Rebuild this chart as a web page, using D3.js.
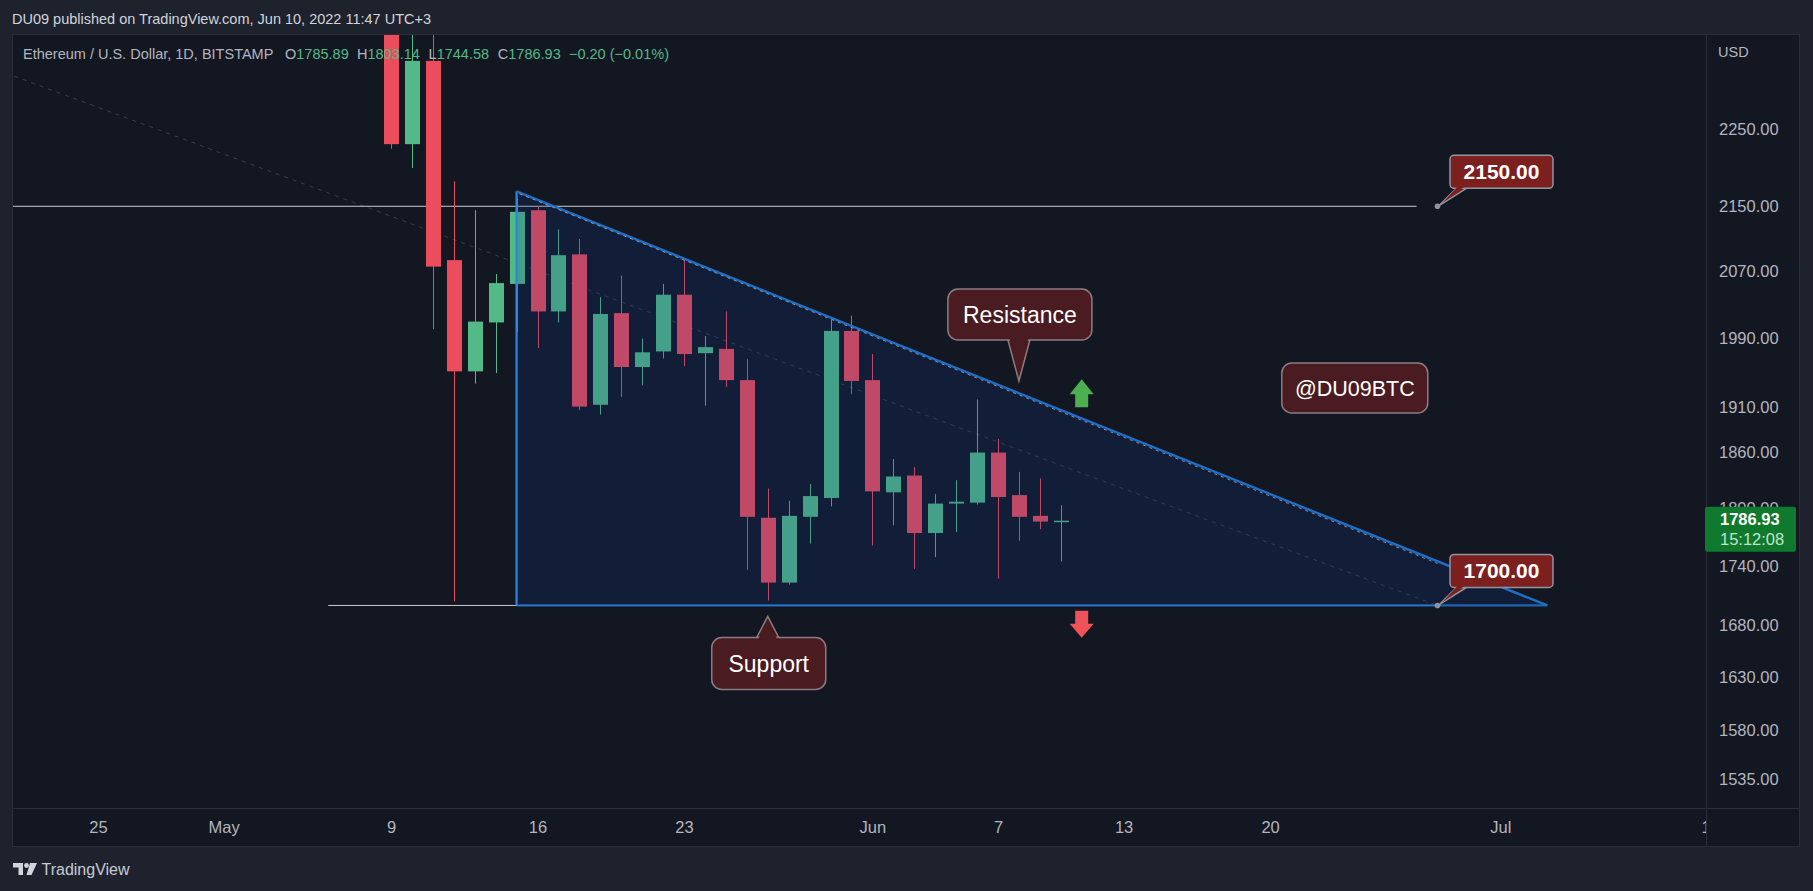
<!DOCTYPE html>
<html>
<head>
<meta charset="utf-8">
<script src="https://cdn.jsdelivr.net/npm/d3@7"></script>
<style>
  html, body { margin: 0; padding: 0; background: #1e222d; }
  svg { display: block; }
</style>
</head>
<body>
<svg width="1813" height="891"></svg>
<script>
// ETH/USD daily candles, Bitstamp
var dates  = ["2022-05-09","2022-05-10","2022-05-11","2022-05-12","2022-05-13","2022-05-14","2022-05-15",
              "2022-05-16","2022-05-17","2022-05-18","2022-05-19","2022-05-20","2022-05-21","2022-05-22",
              "2022-05-23","2022-05-24","2022-05-25","2022-05-26","2022-05-27","2022-05-28","2022-05-29",
              "2022-05-30","2022-05-31","2022-06-01","2022-06-02","2022-06-03","2022-06-04","2022-06-05",
              "2022-06-06","2022-06-07","2022-06-08","2022-06-09","2022-06-10"];
var opens  = [2518,2230,2342,2083,1951,2008,2054, 2145,2021,2090,1913,2019,1956,1974,
              2041,1972,1977,1941,1790,1723,1791, 1811,1998,1941,1817,1835,1774,1805,
              1806,1860,1814,1792,1785.89];
var highs  = [2528,2455,2450,2182,2145,2066,2160, 2150,2121,2109,2038,2064,1989,2054,
              2085,1992,2021,1965,1821,1808,1826, 2011,2016,1971,1853,1844,1815,1830,
              1919,1875,1839,1832,1803.14];
var lows   = [2224,2199,2000,1704,1937,1949,1997, 1978,2008,1907,1902,1922,1935,1966,
              1957,1912,1933,1736,1705,1721,1763, 1802,1925,1761,1782,1737,1749,1775,
              1804,1727,1766,1778,1744.58];
var closes = [2230,2342,2075,1951,2009,2055,2143, 2021,2089,1911,2018,1956,1973,2041,
              1971,1979,1941,1791,1723,1792,1813, 1998,1940,1818,1834,1774,1805,1807,
              1860,1812,1791,1786,1786.93];

var price_ticks = [2250, 2150, 2070, 1990, 1910, 1860, 1800, 1740, 1680, 1630, 1580, 1535];
var time_ticks  = ["2022-04-25","2022-05-01","2022-05-09","2022-05-16","2022-05-23","2022-06-01",
                   "2022-06-07","2022-06-13","2022-06-20","2022-07-01","2022-07-11"];
var time_labels = ["25","May","9","16","23","Jun","7","13","20","Jul","11"];

// drawings on the chart: [date, price]
var triangle_pts = [["2022-05-15T00:00", 2169], ["2022-05-15T00:00", 1700], ["2022-07-03T06:00", 1700]];
var old_trend    = [["2022-04-21T00:00", 2321], ["2022-06-28T00:00", 1700]];
var level_2150   = [["2022-04-01T00:00", 2150], ["2022-06-27T00:00", 2150]];
var level_1700   = [["2022-05-06T00:00", 1700], ["2022-06-28T00:00", 1700]];
var price_marks  = [["2022-06-28T00:00", 2150], ["2022-06-28T00:00", 1700]];

var last_price = 1786.93, countdown = "15:12:08";

var plot_l = 12, plot_r = 1706, plot_t = 34, plot_b = 808, axis_r = 1800, axis_b = 847;
var up_col = "#53b987", down_col = "#eb4d5c", blue = "#1f6fc6";
var font = "'Liberation Sans', Arial, sans-serif";

var parse = d3.utcParse("%Y-%m-%d");
var parseT = d3.utcParse("%Y-%m-%dT%H:%M");

var x = d3.scaleUtc()
  .domain([parse("2022-05-09"), parse("2022-06-28")])
  .range([391, 1437.5]);
var y = d3.scaleLog()
  .domain([1535, 2250])
  .range([779, 129]);

function px(p) { return [x(parseT(p[0])), y(p[1])]; }

var svg = d3.select("svg");

// ----------- frame ----------------
svg.append("rect").attr("width", 1813).attr("height", 891).attr("fill", "#1e222d");
svg.append("rect")
  .attr("x", plot_l + 0.5).attr("y", plot_t + 0.5)
  .attr("width", axis_r - plot_l - 1).attr("height", axis_b - plot_t - 1)
  .attr("fill", "#131722").attr("stroke", "#2a2e39");
svg.append("line").attr("x1", plot_r + 0.5).attr("x2", plot_r + 0.5)
  .attr("y1", plot_t).attr("y2", axis_b).attr("stroke", "#2a2e39");
svg.append("line").attr("x1", plot_l).attr("x2", axis_r)
  .attr("y1", plot_b + 0.5).attr("y2", plot_b + 0.5).attr("stroke", "#2a2e39");

svg.append("text")
  .attr("x", 12).attr("y", 19).attr("dy", "0.35em")
  .style("font-family", font).style("font-size", "14.5px").attr("fill", "#d1d4dc")
  .text("DU09 published on TradingView.com, Jun 10, 2022 11:47 UTC+3");

var defs = svg.append("defs");
defs.append("clipPath").attr("id", "plotclip").append("rect")
  .attr("x", plot_l + 1).attr("y", plot_t + 1)
  .attr("width", plot_r - plot_l - 1).attr("height", plot_b - plot_t - 1);
defs.append("clipPath").attr("id", "timeclip").append("rect")
  .attr("x", plot_l + 1).attr("y", plot_b + 1)
  .attr("width", plot_r - plot_l - 1).attr("height", axis_b - plot_b - 2);

var plot = svg.append("g").attr("clip-path", "url(#plotclip)");

// faint old trend line
plot.append("path")
  .attr("d", d3.line()(old_trend.map(px)))
  .attr("stroke", "#3a3e4b").attr("stroke-width", 1).attr("stroke-dasharray", "4 5").attr("fill", "none");

// horizontal levels
[level_2150, level_1700].forEach(function(l) {
  plot.append("path")
    .attr("d", d3.line()(l.map(px)))
    .attr("stroke", "#c9cbd1").attr("stroke-width", 1).attr("fill", "none");
});

// ----------- candles ----------------
var candles = dates.map(function(d, i) {
  return {date: parse(d), o: opens[i], h: highs[i], l: lows[i], c: closes[i]};
});
function col(d) { return d.c >= d.o ? up_col : down_col; }

var cg = plot.append("g").classed("candles", true);
cg.selectAll("line").data(candles).join("line")
  .attr("x1", function(d) { return Math.round(x(d.date)) + 0.5; })
  .attr("x2", function(d) { return Math.round(x(d.date)) + 0.5; })
  .attr("y1", function(d) { return y(d.h); })
  .attr("y2", function(d) { return y(d.l); })
  .attr("stroke", col).attr("stroke-width", 1);
cg.selectAll("rect").data(candles).join("rect")
  .attr("x", function(d) { return Math.round(x(d.date)) - 7; })
  .attr("width", 15)
  .attr("y", function(d) { return y(Math.max(d.o, d.c)); })
  .attr("height", function(d) { return Math.max(1.5, Math.abs(y(d.o) - y(d.c))); })
  .attr("fill", col);

// ----------- triangle ----------------
var tri = triangle_pts.map(px);
plot.append("path")
  .attr("d", d3.line()(tri) + "Z")
  .attr("fill", "rgba(14,58,144,0.2)");
plot.append("path")
  .attr("d", d3.line()([tri[0], tri[1]]))
  .attr("stroke", "#2a86e0").attr("stroke-width", 2.2).attr("fill", "none");
plot.append("path")
  .attr("d", d3.line()([tri[1], tri[2]]))
  .attr("stroke", blue).attr("stroke-width", 2.2).attr("stroke-opacity", 0.88).attr("fill", "none");
plot.append("path")
  .attr("d", d3.line()([tri[0], tri[2]]))
  .attr("stroke", blue).attr("stroke-width", 2.4).attr("fill", "none");
plot.append("path")
  .attr("d", d3.line()([[tri[0][0] + 3, tri[0][1] + 2.5], [tri[2][0] - 110, tri[2][1] - 42]]))
  .attr("stroke", "#aeb3bd").attr("stroke-width", 1).attr("stroke-dasharray", "3 4")
  .attr("stroke-opacity", 0.75).attr("fill", "none");

// ----------- callouts ----------------
function bubble(g, b, tail, fill, stroke) {
  g.append("path").attr("d", d3.line()(tail) + "Z")
    .attr("fill", fill).attr("stroke", stroke).attr("stroke-width", 1.5);
  g.append("rect")
    .attr("x", b.x).attr("y", b.y).attr("width", b.w).attr("height", b.h)
    .attr("rx", b.r).attr("fill", fill).attr("stroke", stroke).attr("stroke-width", 1.5);
  // cover the seam between tail and box
  var cx = (tail[0][0] + tail[1][0]) / 2, cy = (tail[0][1] + tail[1][1]) / 2;
  var inner = tail.map(function(p, i) {
    if (i == 2) return [p[0] + (cx - p[0]) * 0.12, p[1] + (cy - p[1]) * 0.12];
    var dx = (cx - p[0]), len = Math.abs(dx) || 1;
    return [p[0] + dx / len * 1.4, p[1] + (cy - tail[2][1] > 0 ? 2 : -2)];
  });
  g.append("path").attr("d", d3.line()(inner) + "Z").attr("fill", fill);
  return g;
}
function label(g, cx, cy, txt, size, weight) {
  g.append("text").attr("x", cx).attr("y", cy).attr("dy", "0.35em")
    .attr("text-anchor", "middle").attr("fill", "#ffffff")
    .style("font-family", font).style("font-size", size + "px").style("font-weight", weight)
    .text(txt);
}

var notes = svg.append("g").attr("clip-path", "url(#plotclip)");

// price marks with small red labels
price_marks.forEach(function(p) {
  var q = px(p);
  var b = {x: q[0] + 12.5, y: q[1] - 51, w: 103, h: 33, r: 4};
  bubble(notes, b, [[q[0] + 19, b.y + b.h], [q[0] + 29, b.y + b.h], [q[0] + 2, q[1] - 1]], "#7b1f1f", "#9195a0");
  notes.append("circle").attr("cx", q[0]).attr("cy", q[1]).attr("r", 2.8).attr("fill", "#8d93a0");
  label(notes, b.x + b.w / 2, b.y + b.h / 2, d3.format(".2f")(p[1]), 21, "bold");
});

var maroon = "#4a1b21", maroon_line = "#8c7c82";

var rt = px(["2022-06-08T00:00", 1940]);
var rb = {x: rt[0] - 71, y: rt[1] - 92, w: 144, h: 51, r: 10};
bubble(notes, rb, [[rt[0] - 11, rb.y + rb.h], [rt[0] + 11, rb.y + rb.h], rt], maroon, maroon_line);
label(notes, rb.x + rb.w / 2, rb.y + rb.h / 2, "Resistance", 23, "normal");

var st = px(["2022-05-27T00:00", 1689]);
var sb = {x: st[0] - 56, y: st[1] + 21, w: 114, h: 52, r: 10};
bubble(notes, sb, [[st[0] - 11, sb.y], [st[0] + 11, sb.y], st], maroon, maroon_line);
label(notes, sb.x + sb.w / 2, sb.y + sb.h / 2, "Support", 23, "normal");

var wm = px(["2022-06-24T00:00", 1932]);
notes.append("rect")
  .attr("x", wm[0] - 72).attr("y", wm[1] - 25).attr("width", 146).attr("height", 50)
  .attr("rx", 10).attr("fill", maroon).attr("stroke", maroon_line).attr("stroke-width", 1.5);
label(notes, wm[0] + 1, wm[1], "@DU09BTC", 21.5, "normal");

// arrows
var ua = px(["2022-06-11T00:00", 1942]);
notes.append("path")
  .attr("d", d3.line()([[0, 0], [12, 15], [6.5, 15], [6.5, 28], [-6.5, 28], [-6.5, 15], [-12, 15]]
    .map(function(p) { return [ua[0] + p[0], ua[1] + p[1]]; })) + "Z")
  .attr("fill", "#4caf50");
var da = px(["2022-06-11T00:00", 1668]);
notes.append("path")
  .attr("d", d3.line()([[0, 0], [12, -14], [6.5, -14], [6.5, -27], [-6.5, -27], [-6.5, -14], [-12, -14]]
    .map(function(p) { return [da[0] + p[0], da[1] + p[1]]; })) + "Z")
  .attr("fill", "#f0525a");

// ----------- legend ----------------
var lg = svg.append("g").style("font-family", font).style("font-size", "14.5px");
lg.append("text").attr("x", 23).attr("y", 54).attr("dy", "0.35em").attr("fill", "#b2b5be")
  .text("Ethereum / U.S. Dollar, 1D, BITSTAMP");
var ohlc = [["O", "1785.89", 285], ["H", "1803.14", 357], ["L", "1744.58", 428.6], ["C", "1786.93", 497.8]];
ohlc.forEach(function(o) {
  var t = lg.append("text").attr("x", o[2]).attr("y", 54).attr("dy", "0.35em");
  t.append("tspan").attr("fill", "#b2b5be").text(o[0]);
  t.append("tspan").attr("fill", up_col).text(o[1]);
});
lg.append("text").attr("x", 569).attr("y", 54).attr("dy", "0.35em").attr("fill", up_col)
  .text("\u22120.20 (\u22120.01%)");

// ----------- price axis ----------------
svg.append("text").attr("x", 1718).attr("y", 52).attr("dy", "0.35em")
  .style("font-family", font).style("font-size", "14.5px").attr("fill", "#b2b5be").text("USD");

var yAxis = svg.append("g")
  .attr("transform", "translate(" + plot_r + ",0)")
  .call(d3.axisRight(y).tickValues(price_ticks).tickFormat(d3.format(".2f")).tickSize(0).tickPadding(13));
yAxis.select(".domain").remove();
yAxis.selectAll("text").style("font-family", font).style("font-size", "16.5px").attr("fill", "#b2b5be");

var ly = y(last_price);
svg.append("rect").attr("x", 1705).attr("y", ly - 14).attr("width", 91).attr("height", 45)
  .attr("rx", 2).attr("fill", "#0f7a2d");
svg.append("text").attr("x", 1720).attr("y", ly - 1).attr("dy", "0.35em")
  .style("font-family", font).style("font-size", "16.5px").style("font-weight", "bold")
  .attr("fill", "#ffffff").text(d3.format(".2f")(last_price));
svg.append("text").attr("x", 1720).attr("y", ly + 19).attr("dy", "0.35em")
  .style("font-family", font).style("font-size", "16.5px")
  .attr("fill", "#c3e3ca").text(countdown);

// ----------- time axis ----------------
var xAxis = svg.append("g")
  .attr("clip-path", "url(#timeclip)")
  .append("g")
  .attr("transform", "translate(0," + plot_b + ")")
  .call(d3.axisBottom(x).tickValues(time_ticks.map(parse))
    .tickFormat(function(d, i) { return time_labels[i]; }).tickSize(0).tickPadding(13));
xAxis.select(".domain").remove();
xAxis.selectAll("text").style("font-family", font).style("font-size", "16.5px").attr("fill", "#b2b5be");

// ----------- footer logo ----------------
var logo = svg.append("g").attr("fill", "#d1d4dc");
logo.append("path").attr("d", "M13,863 H23 V875 H18.5 V867.5 H13 Z");
logo.append("circle").attr("cx", 26.5).attr("cy", 865.5).attr("r", 2.4);
logo.append("path").attr("d", "M30,863 H37 L31.5,875 H26.5 Z");
svg.append("text").attr("x", 41.5).attr("y", 869).attr("dy", "0.35em")
  .style("font-family", font).style("font-size", "16px").attr("fill", "#c8cbd2")
  .text("TradingView");
</script>
</body>
</html>
